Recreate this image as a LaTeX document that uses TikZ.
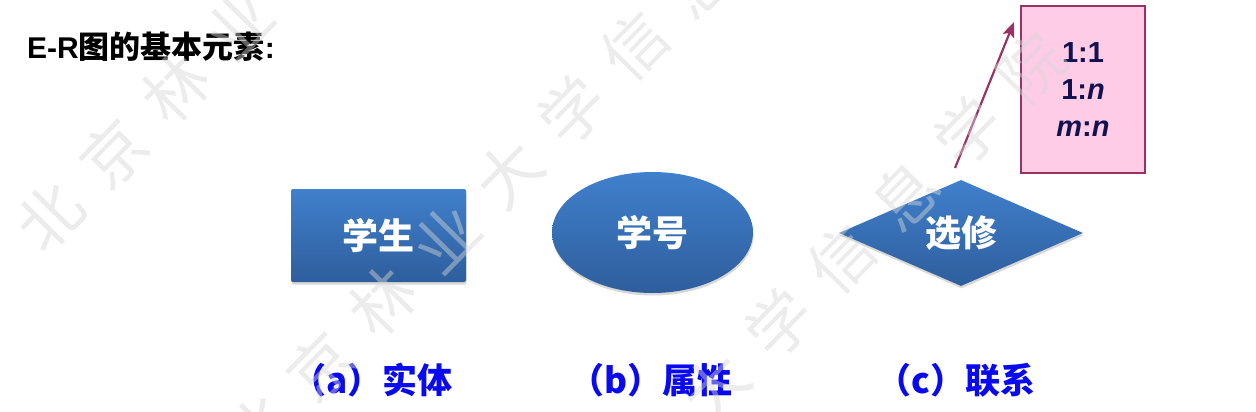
\documentclass[tikz,border=0pt]{standalone}
\usepackage{fontspec}
\setmainfont{Liberation Sans}
\newfontfamily\cjk{Noto Sans CJK SC}
\usetikzlibrary{shapes.geometric,arrows.meta,shadows}
\definecolor{boxtop}{RGB}{64,128,204}
\definecolor{boxbot}{RGB}{46,94,156}
\definecolor{pinkfill}{RGB}{255,204,230}
\definecolor{maroonc}{RGB}{153,51,102}
\definecolor{navytxt}{RGB}{18,18,80}
\definecolor{lblblue}{RGB}{10,10,240}
\definecolor{wmgray}{RGB}{215,215,215}
\begin{document}
\begin{tikzpicture}[x=1pt,y=-1pt,
  erbox/.style={top color=boxtop,bottom color=boxbot,draw=none,text=white,
    font=\cjk\bfseries\fontsize{36}{40}\selectfont,inner sep=0pt,
    drop shadow={opacity=0.3,shadow xshift=0.5pt,shadow yshift=-2.5pt}},
  lbl/.style={text=lblblue,font=\cjk\bfseries\fontsize{35}{40}\selectfont,inner sep=0pt},
  card/.style={draw=maroonc,line width=2pt,fill=pinkfill,inner sep=0pt,align=center,
    text=navytxt,font=\bfseries\fontsize{29}{37}\selectfont},
  wm/.style={text=wmgray,text opacity=0.45,font=\cjk\fontsize{64}{64}\selectfont,
    rotate=45.5,inner sep=0pt},
  linkarrow/.style={draw=maroonc,line width=2.2pt,-{Stealth[length=15pt,width=12pt,inset=3pt]}}
]
\fill[white] (0,0) rectangle (1256,412);
\useasboundingbox (0,0) rectangle (1256,412);

\node[anchor=base west,inner sep=0pt,font=\bfseries\fontsize{30}{34}\selectfont] (title) at (27,59) {E-R{\cjk\fontsize{31}{34}\selectfont 图的基本元素}:};

\node[erbox,rectangle,rounded corners=2pt,minimum width=175pt,minimum height=93pt] (ent) at (378.5,235.5) {学生};
\node[erbox,ellipse,minimum width=201pt,minimum height=121pt] (att) at (652.5,232.5) {学号};
\node[erbox,diamond,aspect=2.3,minimum width=244pt,minimum height=106pt] (rel) at (961,233) {选修};

\node[card,minimum width=124pt,minimum height=167pt] (card) at (1083,89.5) {1:1\\1:\textit{n}\\\textit{m}:\textit{n}};

\coordinate (as) at (955,168);
\coordinate (ae) at (1014,22);
\draw[linkarrow] (as) -- (ae);

\node[lbl] (la) at (372,380) {（a）实体};
\node[lbl] (lb) at (651,380) {（b）属性};
\node[lbl] (lc) at (956,380) {（c）联系};

\foreach \k in {0,1,2} {
  \foreach \c [count=\i from 0] in {北,京,林,业,大,学,信,息,学,院} {
    \node[wm] (wm\k\i) at ({50+207*\k+63*\i},{217+213*\k-64*\i}) {\c};
  }
}
\end{tikzpicture}
\end{document}
